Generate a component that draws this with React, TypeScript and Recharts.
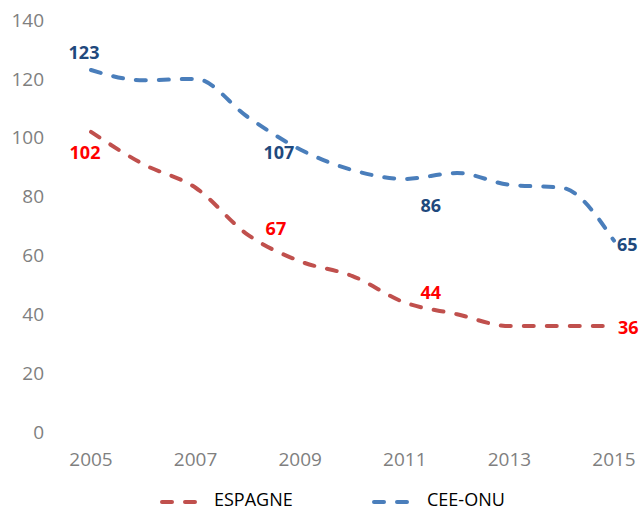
import React from 'react';
import { LineChart, Line, XAxis, YAxis, Legend, LabelList } from 'recharts';

const years = ['2005', '2006', '2007', '2008', '2009', '2010', '2011', '2012', '2013', '2014', '2015'];
const espagne = [102, 91, 83, 67, 58, 53, 44, 40, 36, 36, 36];
const ceeOnu = [123, 119.5, 120, 107, 96, 89, 86, 88, 84, 83, 65];
const labelledIdx = [0, 3, 6, 10];
const yTicks = [0, 20, 40, 60, 80, 100, 120, 140];
const xTicks = ['2005', '2007', '2009', '2011', '2013', '2015'];
const seriesNames = ['ESPAGNE', 'CEE-ONU'];

const data = years.map((y, i) => ({ year: y, espagne: espagne[i], cee: ceeOnu[i] }));

const FONT = '"Open Sans", sans-serif';
const BLUE = '#4A7EBB';
const RED = '#C0504D';
const BLUE_TXT = '#1F497D';
const RED_TXT = '#FF0000';

// label offsets (dx, dy, anchor) per labelled index
const blueOff: Record<number, [number, number, string]> = {
  0: [-7, -18, 'middle'],
  3: [31, 35, 'middle'],
  6: [26, 26, 'middle'],
  10: [3, 3, 'start'],
};
const redOff: Record<number, [number, number, string]> = {
  0: [-6, 20, 'middle'],
  3: [28, -7, 'middle'],
  6: [26, -11, 'middle'],
  10: [4, 1, 'start'],
};

const makeLabel = (off: Record<number, [number, number, string]>, color: string) => (props: any) => {
  const { x, y, value, index } = props;
  if (!labelledIdx.includes(index)) return null;
  const o = off[index];
  return (
    <text
      x={x + o[0]}
      y={y + o[1]}
      textAnchor={o[2] as any}
      dominantBaseline="central"
      fill={color}
      fontFamily={FONT}
      fontWeight={700}
      fontSize={18}
    >
      {Math.round(value)}
    </text>
  );
};

const legendItems = [
  { name: seriesNames[0], color: RED, lineX: 160, textX: 214 },
  { name: seriesNames[1], color: BLUE, lineX: 372, textX: 427 },
];

const LegendContent = () => (
  <div style={{ position: 'relative', width: 640, height: 40 }}>
    {legendItems.map((it) => (
      <React.Fragment key={it.name}>
        <svg
          width={48}
          height={8}
          style={{ position: 'absolute', left: it.lineX, top: 26, display: 'block' }}
        >
          <line x1={2} y1={4} x2={46} y2={4} stroke={it.color} strokeWidth={4} strokeDasharray="10 13" strokeLinecap="round" />
        </svg>
        <span
          style={{
            position: 'absolute',
            left: it.textX,
            top: 18,
            fontFamily: FONT,
            fontSize: 18,
            lineHeight: '18px',
            color: '#000',
            whiteSpace: 'nowrap',
          }}
        >
          {it.name}
        </span>
      </React.Fragment>
    ))}
  </div>
);

export default function App() {
  return (
    <div style={{ position: 'absolute', left: 0, top: 0, width: 640, height: 512 }}>
      <LineChart width={640} height={512} data={data} margin={{ top: 20, right: 0, bottom: 0, left: 0 }}>
        <XAxis
          dataKey="year"
          ticks={xTicks}
          interval={0}
          axisLine={false}
          tickLine={false}
          height={40}
          padding={{ left: 39, right: 26 }}
          tickMargin={15}
          tick={{ fill: '#7F7F7F', fontSize: 19, fontFamily: FONT }}
        />
        <YAxis
          domain={[0, 140]}
          ticks={yTicks}
          width={52}
          axisLine={false}
          tickLine={false}
          tickMargin={2}
          tick={{ fill: '#7F7F7F', fontSize: 19, fontFamily: FONT }}
        />
        <Legend verticalAlign="bottom" height={40} content={<LegendContent />} wrapperStyle={{ left: 0, width: 640 }} />
        <Line
          type="monotone"
          dataKey="espagne"
          name={seriesNames[0]}
          stroke={RED}
          strokeWidth={4}
          strokeDasharray="10 13"
          strokeLinecap="round"
          dot={false}
          activeDot={false}
          isAnimationActive={false}
        >
          <LabelList dataKey="espagne" content={makeLabel(redOff, RED_TXT)} />
        </Line>
        <Line
          type="monotone"
          dataKey="cee"
          name={seriesNames[1]}
          stroke={BLUE}
          strokeWidth={4}
          strokeDasharray="10 13"
          strokeLinecap="round"
          dot={false}
          activeDot={false}
          isAnimationActive={false}
        >
          <LabelList dataKey="cee" content={makeLabel(blueOff, BLUE_TXT)} />
        </Line>
      </LineChart>
    </div>
  );
}
